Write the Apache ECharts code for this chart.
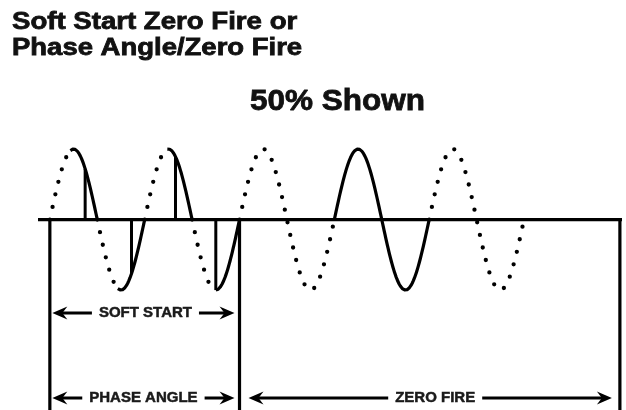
<!DOCTYPE html>
<html>
<head>
<meta charset="utf-8">
<script src="https://cdn.jsdelivr.net/npm/echarts@6/dist/echarts.min.js"></script>
<style>html,body{margin:0;padding:0;background:#fff}#c{width:626px;height:410px}</style>
</head>
<body>
<div id="c"></div>
<script>
// ---- data ----
const titleLines = ['Soft Start Zero Fire or', 'Phase Angle/Zero Fire'];
const subtitle = '50% Shown';
// one entry per AC half-cycle (180° each)
const halfMode = ['phase', 'phase', 'phase', 'phase', 'skip', 'skip', 'full', 'full', 'skip', 'skip'];
const traceStart = [78, 78, 86, 90, 0, 0, 0, 0, 0, 0];          // degrees into the half-cycle where the conducting trace starts
const firePoint = [134, 130, 117, 90, null, null, null, null, null, null]; // firing edge, degrees
const boundaries = [0, 720, 2164];                                // degrees
const baselineSpan = [-45, 2172];                                 // degrees
const sectionLabels = ['SOFT START', 'PHASE ANGLE', 'ZERO FIRE'];
const sectionFrom = [0, 0, 720];
const sectionTo = [720, 720, 2164];
const sectionLevel = [-1.325, -2.53];                              // SOFT START row, PHASE ANGLE / ZERO FIRE row
const sectionRow = [0, 1, 1];

// ---- build ----
const DEG = Math.PI / 180;
function wave(h, a, b) {
  const sign = h % 2 === 0 ? 1 : -1;
  const pts = [];
  for (let p = a; p <= b + 1e-9; p += 1.5) pts.push([h * 180 + p, sign * Math.sin(p * DEG)]);
  if (pts[pts.length - 1][0] < h * 180 + b) pts.push([h * 180 + b, sign * Math.sin(b * DEG)]);
  return pts;
}

const series = [];
const dotStyle = { color: '#000', width: 4.3, type: [0, 12.9], cap: 'round' };
const solidStyle = { color: '#000', width: 3.2, cap: 'butt', join: 'round' };
function addLine(data, style) {
  series.push({ type: 'line', data, symbol: 'none', lineStyle: style, clip: false, silent: true, animation: false, z: 3 });
}
// baseline
addLine([[baselineSpan[0], 0], [baselineSpan[1], 0]], { color: '#000', width: 3.2 });

// dotted runs (non-conducting parts)
let run = null;
for (let h = 0; h < halfMode.length; h++) {
  if (halfMode[h] === 'skip') {
    if (!run) run = [];
    run = run.concat(wave(h, 0, 180));
  } else {
    if (run) { addLine(run, dotStyle); run = null; }
    if (halfMode[h] === 'phase') addLine(wave(h, 0, traceStart[h]), dotStyle);
  }
}
if (run) addLine(run, dotStyle);

// solid conducting traces
for (let h = 0; h < halfMode.length; h++) {
  if (halfMode[h] === 'full') addLine(wave(h, 0, 180), solidStyle);
  if (halfMode[h] === 'phase') addLine(wave(h, traceStart[h], 180), solidStyle);
}

// verticals: firing edges and section boundaries
const verticals = [];
for (let h = 0; h < halfMode.length; h++) {
  if (firePoint[h] != null) {
    const sign = h % 2 === 0 ? 1 : -1;
    verticals.push([h * 180 + firePoint[h], 0, sign * Math.sin(firePoint[h] * DEG), 3]);
  }
}
boundaries.forEach(b => verticals.push([b, 0, -2.7, 3.2]));
series.push({
  type: 'custom', silent: true, animation: false, z: 4, clip: false,
  data: verticals,
  renderItem: function (params, api) {
    const p0 = api.coord([api.value(0), api.value(1)]);
    const p1 = api.coord([api.value(0), api.value(2)]);
    return { type: 'line', shape: { x1: p0[0], y1: p0[1], x2: p1[0], y2: p1[1] }, style: { stroke: '#000', lineWidth: api.value(3) } };
  }
});

// dimension arrows with labels
const arrowInset = [[2.5, 5], [2.5, 5], [9, 8]];   // px gap from the boundary lines
const labelShift = [2, 0, 5];                      // px
const arrowData = sectionLabels.map((t, i) => [sectionFrom[i], sectionTo[i], sectionLevel[sectionRow[i]], i]);
series.push({
  type: 'custom', silent: true, animation: false, z: 5, clip: false,
  data: arrowData,
  renderItem: function (params, api) {
    const i = api.value(3);
    const a = api.coord([api.value(0), api.value(2)]);
    const b = api.coord([api.value(1), api.value(2)]);
    const y = a[1];
    const xl = a[0] + arrowInset[i][0], xr = b[0] - arrowInset[i][1];
    const L = 15, W = 13, N = 10;
    const cx = (xl + xr) / 2 + labelShift[i];
    return {
      type: 'group',
      children: [
        { type: 'line', shape: { x1: xl + 8, y1: y, x2: xr - 8, y2: y }, style: { stroke: '#000', lineWidth: 2.8 } },
        { type: 'polygon', shape: { points: [[xl, y], [xl + L, y - W / 2], [xl + N, y], [xl + L, y + W / 2]] }, style: { fill: '#000' } },
        { type: 'polygon', shape: { points: [[xr, y], [xr - L, y - W / 2], [xr - N, y], [xr - L, y + W / 2]] }, style: { fill: '#000' } },
        { type: 'text', z2: 10, style: { text: sectionLabels[i], x: cx, y: y, align: 'center', verticalAlign: 'middle',
            font: 'bold 15px "Liberation Sans", Arial, sans-serif', fill: '#1a1a1a', stroke: '#1a1a1a', lineWidth: 0.5,
            backgroundColor: '#fff', padding: [2, 7] } }
      ]
    };
  }
});

const chart = echarts.init(document.getElementById('c'), null, { renderer: 'canvas' });
chart.setOption({
  animation: false,
  backgroundColor: '#fff',
  grid: { left: 38, right: 4, top: 149, bottom: 0, containLabel: false },
  xAxis: { type: 'value', min: baselineSpan[0], max: baselineSpan[1], show: false },
  yAxis: { type: 'value', min: -2.7, max: 1, show: false },
  graphic: [
    { type: 'text', x: 12, y: 22.5, scaleX: 1.15, style: { text: titleLines[0], verticalAlign: 'middle', font: 'bold 24px "Liberation Sans", Arial, sans-serif', fill: '#111', stroke: '#111', lineWidth: 0.8 } },
    { type: 'text', x: 12, y: 48.5, scaleX: 1.145, style: { text: titleLines[1], verticalAlign: 'middle', font: 'bold 24px "Liberation Sans", Arial, sans-serif', fill: '#111', stroke: '#111', lineWidth: 0.8 } },
    { type: 'text', x: 250, y: 102, scaleX: 1.05, style: { text: subtitle, verticalAlign: 'middle', font: 'bold 30px "Liberation Sans", Arial, sans-serif', fill: '#111', stroke: '#111', lineWidth: 0.8 } }
  ],
  series: series
});
</script>
</body>
</html>
